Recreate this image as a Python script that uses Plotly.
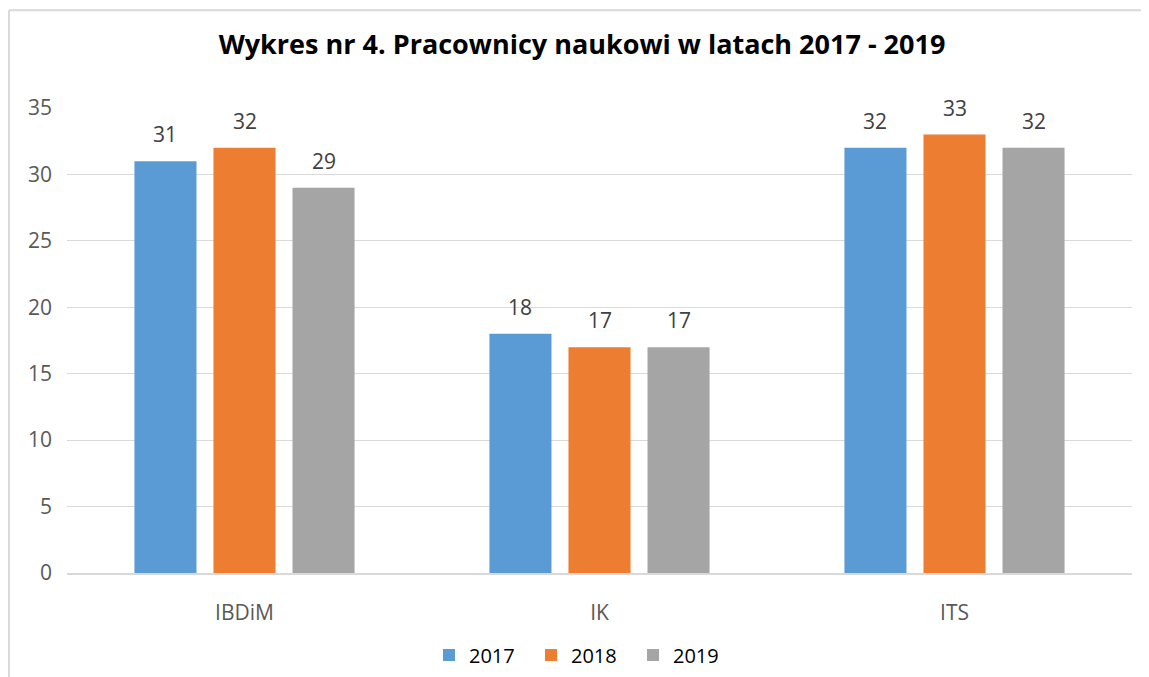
import plotly.graph_objects as go

categories = ["IBDiM", "IK", "ITS"]
years = ["2017", "2018", "2019"]
values_2017 = [31, 18, 32]
values_2018 = [32, 17, 33]
values_2019 = [29, 17, 32]
series = [values_2017, values_2018, values_2019]
colors = ["#5B9BD5", "#ED7D31", "#A5A5A5"]
title_text = "Wykres nr 4. Pracownicy naukowi w latach 2017 - 2019"
y_ticks = [0, 5, 10, 15, 20, 25, 30, 35]

FONT = "Open Sans"
OFF = 8  # page body margin
W, H = 1149, 677
ML, MR, MT, MB = 67 - OFF, 17 + OFF, 108 - OFF, 103 + OFF
plot_w = W - ML - MR
plot_h = H - MT - MB
cat_w = plot_w / len(categories)
bargap = 0.332
slot = cat_w * (1 - bargap) / len(years)

fig = go.Figure()
for name, vals, col in zip(years, series, colors):
    fig.add_trace(go.Bar(x=categories, y=vals, name=name, marker_color=col,
                         marker_line_width=0))

for i, vals in enumerate(series):
    for c, v in zip(categories, vals):
        fig.add_annotation(x=c, y=v, text=str(v), showarrow=False,
                           xshift=(i - 1) * slot, yshift=27, yanchor="middle",
                           font=dict(family=FONT, size=21, color="#404040"))

fig.update_layout(
    width=W, height=H,
    margin=dict(l=ML, r=MR, t=MT, b=MB),
    paper_bgcolor="white", plot_bgcolor="white",
    barmode="group", bargap=bargap, bargroupgap=0.215,
    title=dict(text="<b>" + title_text + "</b>", x=(582 - OFF) / W, xanchor="center",
               y=1 - (45 - OFF) / H, yanchor="middle",
               font=dict(family=FONT, size=27, color="#000000")),
    legend=dict(orientation="h", x=(582 - OFF - ML) / plot_w, xanchor="center",
                y=-81 / plot_h, yanchor="middle",
                font=dict(family=FONT, size=20, color="#000000"),
                itemwidth=30, traceorder="normal",
                entrywidth=57, entrywidthmode="pixels"),
    font=dict(family=FONT, color="#595959"),
)
fig.update_yaxes(range=[0, 35], tickvals=y_ticks, showgrid=True, gridcolor="#D9D9D9",
                 gridwidth=1.3, zeroline=False, showline=False,
                 tickfont=dict(family=FONT, size=21, color="#595959"),
                 ticklabelstandoff=14)
fig.update_xaxes(showline=True, linecolor="#D9D9D9", linewidth=2,
                 tickfont=dict(family=FONT, size=21, color="#595959"),
                 ticklabelstandoff=20)

# chart area border (partially cropped on right/bottom)
top_y = 1 + (MT - (10 - OFF)) / plot_h
left_x = (1 - ML) / plot_w
fig.add_shape(type="line", xref="paper", yref="paper",
              x0=left_x, x1=(W + 5 - ML) / plot_w, y0=top_y, y1=top_y,
              line=dict(color="#D9D9D9", width=2))
fig.add_shape(type="line", xref="paper", yref="paper",
              x0=left_x, x1=left_x, y0=top_y, y1=-(MB + 5) / plot_h,
              line=dict(color="#D9D9D9", width=2))

fig.write_html("out.html")
